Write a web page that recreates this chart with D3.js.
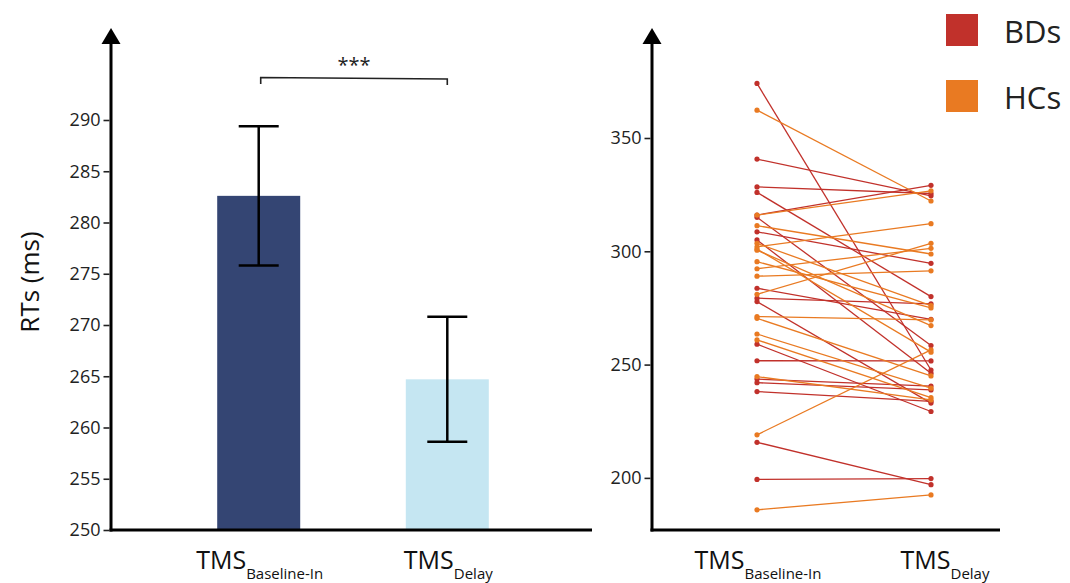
<!DOCTYPE html>
<html>
<head>
<meta charset="utf-8">
<script src="https://cdn.jsdelivr.net/npm/d3@7"></script>
<style>
  body { margin: 0; background: #fff; }
  text { font-family: "Open Sans", "DejaVu Sans", sans-serif; }
</style>
</head>
<body>
<div id="chart"></div>
<script>

/* DATA */

const conditions = ["Baseline-In", "Delay"];
const barMeans = [282.6, 264.7];
const barLow = [275.8, 258.6];
const barHigh = [289.4, 270.8];
const barColors = ["#344573", "#c5e6f2"];
const barTicks = [250, 255, 260, 265, 270, 275, 280, 285, 290];

const groups = ["BDs", "HCs"];
const groupColors = ["#c1312b", "#e97a22"];

// one entry per subject, baseline -> delay
const bdBaseline = [374.1, 340.7, 328.4, 326.0, 316.0, 315.0, 308.6, 305.0, 283.7, 279.3, 277.8, 259.0, 251.7, 243.6, 242.0, 238.1, 215.7, 199.3];
const bdDelay    = [247.6, 324.5, 325.5, 280.0, 329.1, 258.4, 294.7, 246.2, 270.0, 276.8, 233.0, 229.3, 251.6, 240.5, 238.8, 233.8, 197.0, 199.7];
const hcBaseline = [362.3, 316.0, 311.3, 303.5, 302.0, 301.0, 300.5, 295.4, 292.3, 289.0, 281.0, 271.2, 270.4, 263.5, 260.9, 244.7, 219.0, 185.9];
const hcDelay    = [322.2, 326.7, 298.8, 276.0, 312.2, 255.5, 267.2, 275.0, 301.3, 291.4, 303.5, 269.7, 245.0, 239.6, 235.4, 234.4, 256.5, 192.5];
const lineTicks = [200, 250, 300, 350];

/* CONSTANTS */

const width = 1070;
const height = 583;
const arrowTop = 28;
const baseY = 530;

const svg = d3.select("#chart")
  .append("svg")
  .attr("width", width)
  .attr("height", height);

function arrowAxis(x, yBottom, xEnd) {
  // vertical axis with arrow head + horizontal base line
  svg.append("line")
    .attr("x1", x).attr("x2", x)
    .attr("y1", yBottom + 1.5).attr("y2", arrowTop + 10)
    .attr("stroke", "#000").attr("stroke-width", 3);
  svg.append("path")
    .attr("d", `M${x},${arrowTop} L${x - 9.5},${arrowTop + 16} L${x + 9.5},${arrowTop + 16} Z`)
    .attr("fill", "#000");
  svg.append("line")
    .attr("x1", x - 1.5).attr("x2", xEnd)
    .attr("y1", yBottom).attr("y2", yBottom)
    .attr("stroke", "#000").attr("stroke-width", 3);
}

function styleTicks(g) {
  g.select(".domain").remove();
  g.selectAll(".tick line").attr("stroke", "#222").attr("stroke-width", 1.6);
  g.selectAll(".tick text")
    .attr("fill", "#222")
    .style("font-size", "18px");
}

function tmsLabel(x, y, sub) {
  const t = svg.append("text")
    .attr("x", x)
    .attr("y", y)
    .attr("text-anchor", "middle")
    .attr("fill", "#111")
    .style("font-size", "25px");
  t.append("tspan").text("TMS");
  t.append("tspan")
    .attr("dy", 10)
    .style("font-size", "15px")
    .text(sub);
}

// LEFT PANEL: BAR CHART =============================================

const xBar = d3.scalePoint()
  .domain(conditions)
  .range([113.5, 592.5])
  .padding(0.77);

const yBar = d3.scaleLinear()
  .domain([250, 290])
  .range([baseY, 120]);

const barWidth = 83;
const capWidth = 40;

svg.selectAll("rect.bar")
  .data(conditions)
  .join("rect")
  .attr("class", "bar")
  .attr("x", d => xBar(d) - barWidth / 2)
  .attr("width", barWidth)
  .attr("y", (d, i) => yBar(barMeans[i]))
  .attr("height", (d, i) => yBar(250) - yBar(barMeans[i]))
  .attr("fill", (d, i) => barColors[i]);

// error bars
const err = svg.selectAll("g.err")
  .data(conditions)
  .join("g")
  .attr("class", "err")
  .attr("stroke", "#000")
  .attr("stroke-width", 2.5);

err.append("line")
  .attr("x1", d => xBar(d)).attr("x2", d => xBar(d))
  .attr("y1", (d, i) => yBar(barLow[i]))
  .attr("y2", (d, i) => yBar(barHigh[i]));
err.append("line")
  .attr("x1", d => xBar(d) - capWidth / 2).attr("x2", d => xBar(d) + capWidth / 2)
  .attr("y1", (d, i) => yBar(barLow[i]))
  .attr("y2", (d, i) => yBar(barLow[i]));
err.append("line")
  .attr("x1", d => xBar(d) - capWidth / 2).attr("x2", d => xBar(d) + capWidth / 2)
  .attr("y1", (d, i) => yBar(barHigh[i]))
  .attr("y2", (d, i) => yBar(barHigh[i]));

arrowAxis(111, baseY, 592);

svg.append("g")
  .attr("transform", "translate(109.5,0)")
  .call(d3.axisLeft(yBar).tickValues(barTicks).tickSize(6).tickPadding(3))
  .call(styleTicks);

// significance bracket
const bx1 = xBar(conditions[0]) + 2;
const bx2 = xBar(conditions[1]);
svg.append("path")
  .attr("d", `M${bx1},84 L${bx1},77.5 L${bx2},79 L${bx2},85`)
  .attr("fill", "none")
  .attr("stroke", "#222")
  .attr("stroke-width", 1.6);

svg.append("text")
  .attr("x", (bx1 + bx2) / 2)
  .attr("y", 72)
  .attr("text-anchor", "middle")
  .attr("fill", "#222")
  .style("font-size", "20px")
  .text("***");

svg.append("text")
  .attr("transform", "translate(39,282) rotate(-90)")
  .attr("text-anchor", "middle")
  .attr("fill", "#111")
  .style("font-size", "26px")
  .text("RTs (ms)");

conditions.forEach(c => tmsLabel(xBar(c) + 1, 569, c));

// RIGHT PANEL: PAIRED LINES =========================================

const xLine = d3.scalePoint()
  .domain(conditions)
  .range([757, 931]);

const yLine = d3.scaleLinear()
  .domain([177, 350])
  .range([baseY, 138]);

const subjects = [];
bdBaseline.forEach((v, i) => subjects.push({ group: 0, a: v, b: bdDelay[i] }));
hcBaseline.forEach((v, i) => subjects.push({ group: 1, a: v, b: hcDelay[i] }));

const pair = svg.selectAll("g.subject")
  .data(subjects)
  .join("g")
  .attr("class", "subject");

pair.append("line")
  .attr("x1", xLine(conditions[0]))
  .attr("x2", xLine(conditions[1]))
  .attr("y1", d => yLine(d.a))
  .attr("y2", d => yLine(d.b))
  .attr("stroke", d => groupColors[d.group])
  .attr("stroke-width", 1.3);

pair.selectAll("circle")
  .data(d => [[conditions[0], d.a, d.group], [conditions[1], d.b, d.group]])
  .join("circle")
  .attr("cx", d => xLine(d[0]))
  .attr("cy", d => yLine(d[1]))
  .attr("r", 2.6)
  .attr("fill", d => groupColors[d[2]]);

arrowAxis(652, baseY, 1000);

svg.append("g")
  .attr("transform", "translate(650.5,0)")
  .call(d3.axisLeft(yLine).tickValues(lineTicks).tickSize(6).tickPadding(3))
  .call(styleTicks);

tmsLabel(xLine(conditions[0]) + 1, 569, conditions[0]);
tmsLabel(xLine(conditions[1]) + 14, 569, conditions[1]);

// LEGEND ============================================================

const legend = svg.selectAll("g.legend")
  .data(groups)
  .join("g")
  .attr("class", "legend")
  .attr("transform", (d, i) => `translate(946,${14 + i * 66})`);

legend.append("rect")
  .attr("width", 32)
  .attr("height", 32)
  .attr("fill", (d, i) => groupColors[i]);

legend.append("text")
  .attr("x", 58)
  .attr("y", 29)
  .attr("fill", "#222")
  .style("font-size", "31px")
  .text(d => d);

</script>
</body>
</html>
